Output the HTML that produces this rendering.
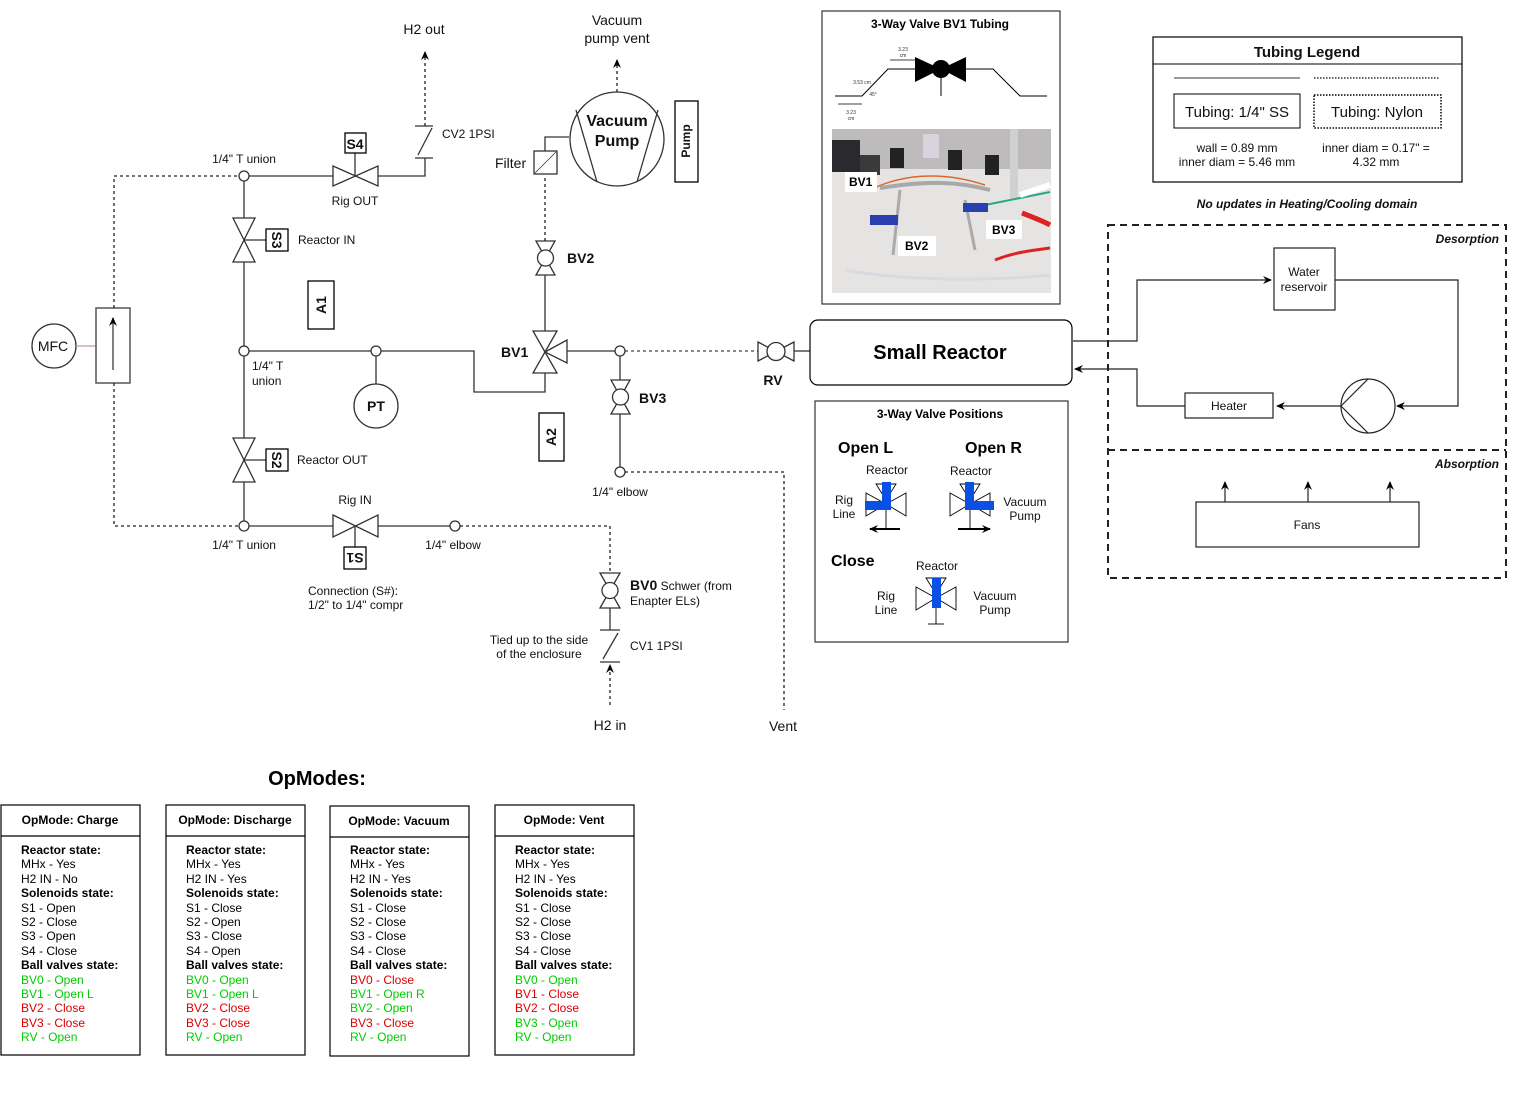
<!DOCTYPE html>
<html><head><meta charset="utf-8"><style>
html,body{margin:0;padding:0;background:#fff;}
svg{display:block;font-family:"Liberation Sans",Arial,sans-serif;}
</style></head><body>
<svg width="1538" height="1102" viewBox="0 0 1538 1102" xmlns="http://www.w3.org/2000/svg">
<defs>
<marker id="ar" markerWidth="10" markerHeight="10" refX="8" refY="5" orient="auto" markerUnits="userSpaceOnUse"><path d="M0,1 L9,5 L0,9 L3,5 Z" fill="#000"/></marker>
</defs>
<rect width="1538" height="1102" fill="#fff"/>
<g stroke="#333" stroke-width="1.3" fill="none">
<circle cx="54" cy="346" r="22" fill="#fff"/>
<line x1="76" y1="346" x2="96" y2="346" stroke="#b9a"/>
<rect x="96" y="308" width="34" height="75" fill="#fff" stroke="#555" stroke-width="1.5"/>
<line x1="113" y1="370" x2="113" y2="318" stroke="#555" stroke-width="1.5" marker-end="url(#ar)"/>
<path d="M114,308 V176 H239" stroke-dasharray="3,3" stroke="#222"/>
<path d="M114,383 V526 H239" stroke-dasharray="3,3" stroke="#222"/>
<line x1="244" y1="181" x2="244" y2="521"/>
<path d="M249,176 H333"/>
<path d="M378,176 H425 V158"/>
<line x1="415" y1="158" x2="433" y2="158"/>
<line x1="415" y1="126" x2="433" y2="126"/>
<line x1="418" y1="155" x2="432" y2="128"/>
<line x1="425" y1="126" x2="425" y2="52" stroke-dasharray="3,3" stroke="#222" marker-end="url(#ar)"/>
<path d="M333,166 L378,186 L378,166 L333,186 Z" fill="#fff"/>
<line x1="355" y1="153" x2="355" y2="176"/>
<rect x="345" y="133" width="21" height="20" fill="#fff" stroke="#000"/>
<path d="M233,218 L255,218 L233,262 L255,262 Z" fill="#fff"/>
<line x1="244" y1="240" x2="266" y2="240"/>
<rect x="266" y="229" width="22" height="22" fill="#fff" stroke="#000"/>
<path d="M233,438 L255,438 L233,482 L255,482 Z" fill="#fff"/>
<line x1="244" y1="460" x2="266" y2="460"/>
<rect x="266" y="449" width="22" height="22" fill="#fff" stroke="#000"/>
<path d="M249,351 H371"/>
<path d="M381,351 H474 V392 H545 V373"/>
<line x1="376" y1="356" x2="376" y2="384"/>
<circle cx="376" cy="406" r="22" fill="#fff"/>
<circle cx="244" cy="176" r="5" fill="#fff"/>
<circle cx="244" cy="351" r="5" fill="#fff"/>
<circle cx="244" cy="526" r="5" fill="#fff"/>
<circle cx="376" cy="351" r="5" fill="#fff"/>
<path d="M249,526 H333"/>
<path d="M378,526 H450"/>
<path d="M333,515 L378,537 L378,515 L333,537 Z" fill="#fff"/>
<line x1="355" y1="526" x2="355" y2="547"/>
<rect x="344" y="547" width="22" height="22" fill="#fff" stroke="#000"/>
<circle cx="455" cy="526" r="5" fill="#fff"/>
<path d="M460,526 H610 V573" stroke-dasharray="3,3" stroke="#222"/>
<rect x="308" y="281" width="26" height="48" fill="#fff" stroke="#000"/>
<rect x="539" y="413" width="25" height="48" fill="#fff" stroke="#000"/>
<path d="M533,331 L557,331 L533,373 L557,373 Z" fill="#fff"/>
<path d="M545,352 L567,340 L567,363 Z" fill="#fff"/>
<line x1="545" y1="331" x2="545" y2="275"/>
<path d="M536,241 L555,241 L536,275 L555,275 Z" fill="#fff"/>
<circle cx="545.5" cy="258" r="8" fill="#fff"/>
<line x1="545" y1="241" x2="545" y2="175" stroke-dasharray="3,3" stroke="#222"/>
<rect x="534" y="151" width="23" height="23" fill="#fff"/>
<line x1="535" y1="173" x2="556" y2="152" stroke-width="0.8"/>
<path d="M545,151 V137 H569"/>
<circle cx="617" cy="139" r="47" fill="#fff"/>
<line x1="576" y1="110" x2="597" y2="182"/>
<line x1="658" y1="110" x2="637" y2="182"/>
<line x1="617" y1="92" x2="617" y2="60" stroke-dasharray="3,3" stroke="#222" marker-end="url(#ar)"/>
<rect x="675" y="101" width="23" height="81" fill="#fff" stroke="#000"/>
<line x1="567" y1="351" x2="615" y2="351"/>
<line x1="625" y1="351" x2="758" y2="351" stroke-dasharray="3,3" stroke="#444"/>
<circle cx="620" cy="351" r="5" fill="#fff"/>
<path d="M758,342 L794,361 L794,342 L758,361 Z" fill="#fff"/>
<circle cx="776" cy="351.5" r="9" fill="#fff"/>
<line x1="794" y1="351" x2="810" y2="351"/>
<line x1="620" y1="356" x2="620" y2="380"/>
<path d="M611,380 L630,380 L611,414 L630,414 Z" fill="#fff"/>
<circle cx="620.5" cy="397" r="8" fill="#fff"/>
<line x1="620" y1="414" x2="620" y2="467"/>
<circle cx="620" cy="472" r="5" fill="#fff"/>
<path d="M625,472 H784 V710" stroke-dasharray="3,3" stroke="#222"/>
<path d="M600,573 L620,573 L600,608 L620,608 Z" fill="#fff"/>
<circle cx="610" cy="590.5" r="8" fill="#fff"/>
<line x1="610" y1="608" x2="610" y2="630"/>
<line x1="600" y1="630" x2="620" y2="630"/>
<line x1="600" y1="662" x2="620" y2="662"/>
<line x1="603" y1="659" x2="618" y2="633"/>
<line x1="610" y1="705" x2="610" y2="665" stroke-dasharray="3,3" stroke="#222" marker-end="url(#ar)"/>
</g>
<g font-size="12" fill="#111" text-anchor="middle">
<text x="424" y="34" font-size="14">H2 out</text>
<text x="617" y="25" font-size="14">Vacuum</text>
<text x="617" y="43" font-size="14">pump vent</text>
<text x="244" y="163">1/4" T union</text>
<text x="244" y="549">1/4" T union</text>
<text x="355" y="205">Rig OUT</text>
<text x="355" y="504">Rig IN</text>
<text x="453" y="549">1/4" elbow</text>
<text x="620" y="496">1/4" elbow</text>
<text x="539" y="644">Tied up to the side</text>
<text x="539" y="658">of the enclosure</text>
<text x="610" y="730" font-size="14">H2 in</text>
<text x="783" y="731" font-size="14">Vent</text>
<text x="376" y="411" font-size="14" font-weight="bold">PT</text>
<text x="355" y="149" font-size="14" font-weight="bold">S4</text>
<text x="617" y="126" font-size="16" font-weight="bold">Vacuum</text>
<text x="617" y="146" font-size="16" font-weight="bold">Pump</text>
<text x="53" y="351" font-size="14">MFC</text>
<text x="773" y="385" font-size="14" font-weight="bold">RV</text>
</g>
<g font-size="12" fill="#111">
<text x="442" y="138">CV2 1PSI</text>
<text x="495" y="168" font-size="14">Filter</text>
<text x="298" y="244">Reactor IN</text>
<text x="297" y="464">Reactor OUT</text>
<text x="252" y="370">1/4" T</text>
<text x="252" y="385">union</text>
<text x="308" y="595">Connection (S#):</text>
<text x="308" y="609">1/2" to 1/4" compr</text>
<text x="630" y="650">CV1 1PSI</text>
<text x="630" y="590"><tspan font-weight="bold" font-size="14">BV0</tspan> Schwer (from</text>
<text x="630" y="605">Enapter ELs)</text>
<text x="567" y="263" font-size="14" font-weight="bold">BV2</text>
<text x="639" y="403" font-size="14" font-weight="bold">BV3</text>
<text x="501" y="357" font-size="14" font-weight="bold">BV1</text>
</g>
<g font-weight="bold" font-size="14" text-anchor="middle" fill="#111">
<text transform="translate(277,240) rotate(90)" y="5">S3</text>
<text transform="translate(277,460) rotate(90)" y="5">S2</text>
<text transform="translate(355,558) rotate(180)" y="5">S1</text>
<text transform="translate(321,305) rotate(-90)" y="5">A1</text>
<text transform="translate(551,437) rotate(-90)" y="5">A2</text>
<text transform="translate(686,141) rotate(-90)" y="4" font-size="12">Pump</text>
</g>
<rect x="810" y="320" width="262" height="65" rx="8" fill="#fff" stroke="#000" stroke-width="1.2"/>
<text x="940" y="359" font-size="20" font-weight="bold" text-anchor="middle">Small Reactor</text>
<g stroke="#222" stroke-width="1.2" fill="none">
<path d="M1073,341 H1137 V280 H1271" marker-end="url(#ar)"/>
<rect x="1274" y="248" width="61" height="62" fill="#fff"/>
<path d="M1335,280 H1458 V406 H1397" marker-end="url(#ar)"/>
<circle cx="1368" cy="406" r="27" fill="#fff"/>
<line x1="1341" y1="406" x2="1368" y2="379"/>
<line x1="1341" y1="406" x2="1368" y2="433"/>
<path d="M1341,406 H1277" marker-end="url(#ar)"/>
<rect x="1185" y="393" width="88" height="25" fill="#fff"/>
<path d="M1185,406 H1137 V369 H1075" marker-end="url(#ar)"/>
<rect x="1108" y="225" width="398" height="353" stroke-dasharray="7,5" stroke-width="2"/>
<line x1="1108" y1="450" x2="1506" y2="450" stroke-dasharray="7,5" stroke-width="2"/>
<rect x="1196" y="502" width="223" height="45" fill="#fff"/>
<line x1="1225" y1="502" x2="1225" y2="482" marker-end="url(#ar)"/>
<line x1="1308" y1="502" x2="1308" y2="482" marker-end="url(#ar)"/>
<line x1="1390" y1="502" x2="1390" y2="482" marker-end="url(#ar)"/>
</g>
<g font-size="12" text-anchor="middle" fill="#111">
<text x="1304" y="276">Water</text>
<text x="1304" y="291">reservoir</text>
<text x="1229" y="410">Heater</text>
<text x="1307" y="529">Fans</text>
<text x="1307" y="208" font-style="italic" font-weight="bold">No updates in Heating/Cooling domain</text>
<text x="1499" y="243" text-anchor="end" font-style="italic" font-weight="bold">Desorption</text>
<text x="1499" y="468" text-anchor="end" font-style="italic" font-weight="bold">Absorption</text>
</g>
<g stroke="#000" fill="none">
<rect x="1153" y="37" width="309" height="145" stroke-width="1.2"/>
<line x1="1153" y1="64" x2="1462" y2="64"/>
<line x1="1174" y1="78" x2="1300" y2="78" stroke="#333"/>
<line x1="1314" y1="78" x2="1440" y2="78" stroke-dasharray="1.5,1.5" stroke="#333" stroke-width="1.5"/>
<rect x="1174" y="94" width="126" height="34"/>
<rect x="1314" y="95" width="127" height="33" stroke-dasharray="1.5,1.5" stroke-width="1.5"/>
</g>
<g text-anchor="middle" fill="#111">
<text x="1307" y="57" font-size="15" font-weight="bold">Tubing Legend</text>
<text x="1237" y="117" font-size="15">Tubing: 1/4" SS</text>
<text x="1377" y="117" font-size="15">Tubing: Nylon</text>
<text x="1237" y="152" font-size="12">wall = 0.89 mm</text>
<text x="1237" y="166" font-size="12">inner diam = 5.46 mm</text>
<text x="1376" y="152" font-size="12">inner diam = 0.17" =</text>
<text x="1376" y="166" font-size="12">4.32 mm</text>
</g>
<rect x="822" y="11" width="238" height="293" fill="#fff" stroke="#333" stroke-width="1.2"/>
<text x="940" y="28" font-size="12" font-weight="bold" text-anchor="middle">3-Way Valve BV1 Tubing</text>
<g stroke="#000" stroke-width="1" fill="none">
<path d="M835,96 H862 L888,69 H915"/>
<path d="M966,69 H993 L1020,96 H1047"/>
<line x1="941" y1="69" x2="941" y2="96"/>
</g>
<path d="M915,57 L941,69 L915,82 Z M966,57 L941,69 L966,82 Z" fill="#000"/>
<circle cx="941" cy="69" r="9" fill="#000"/>
<g font-size="5" fill="#333" text-anchor="middle">
<text x="903" y="51">3.23</text><text x="903" y="57">cm</text>
<text x="862" y="84">3.53 cm</text>
<text x="873" y="96">45°</text>
<text x="851" y="114">3.23</text><text x="851" y="120">cm</text>
</g>
<line x1="890" y1="60" x2="915" y2="60" stroke="#000" stroke-width="0.7"/>
<line x1="838" y1="104" x2="862" y2="104" stroke="#000" stroke-width="0.7"/>
<rect x="832" y="129" width="219" height="164" fill="#e6e4e3"/>
<rect x="832" y="129" width="219" height="40" fill="#bdbbbc"/>
<rect x="1010" y="129" width="8" height="70" fill="#cfd0d2"/>
<rect x="832" y="140" width="28" height="32" fill="#2a2a2e"/>
<rect x="860" y="155" width="20" height="20" fill="#3a3a3a"/>
<rect x="890" y="148" width="14" height="20" fill="#222"/>
<rect x="948" y="150" width="14" height="20" fill="#222"/>
<rect x="985" y="155" width="14" height="20" fill="#222"/>
<rect x="923" y="134" width="16" height="24" fill="#d8d4de"/>
<path d="M870,190 C900,175 940,170 985,185" stroke="#d86a2a" stroke-width="1.5" fill="none"/>
<path d="M880,188 C930,180 960,182 990,190" stroke="#a8a8a8" stroke-width="4" fill="none"/>
<path d="M900,190 L893,255 M965,200 L975,250" stroke="#aaa" stroke-width="3" fill="none"/>
<path d="M985,205 C1010,200 1030,196 1050,192" stroke="#2a8" stroke-width="2" fill="none"/>
<path d="M995,260 C1015,252 1035,250 1050,248" stroke="#d22" stroke-width="3" fill="none"/>
<path d="M1022,213 C1035,218 1045,222 1050,225" stroke="#d22" stroke-width="5" fill="none"/>
<path d="M1020,195 L1050,185" stroke="#fff" stroke-width="6" fill="none"/>
<path d="M845,270 C900,280 980,282 1050,275" stroke="#d8dadf" stroke-width="3" fill="none"/>
<rect x="870" y="215" width="28" height="10" fill="#2a3fb0"/>
<rect x="963" y="203" width="25" height="9" fill="#2a3fb0"/>
<rect x="845" y="172" width="32" height="20" fill="#fff"/>
<rect x="898" y="236" width="38" height="20" fill="#fff"/>
<rect x="986" y="220" width="36" height="19" fill="#fff"/>
<g font-size="12" font-weight="bold">
<text x="849" y="186">BV1</text>
<text x="905" y="250">BV2</text>
<text x="992" y="234">BV3</text>
</g>
<rect x="815" y="401" width="253" height="241" fill="#fff" stroke="#333" stroke-width="1.2"/>
<text x="940" y="418" font-size="12" font-weight="bold" text-anchor="middle">3-Way Valve Positions</text>
<g font-weight="bold" font-size="16">
<text x="838" y="453">Open L</text>
<text x="965" y="453">Open R</text>
<text x="831" y="566">Close</text>
</g>
<g stroke="#000" stroke-width="0.9" fill="#fff">
<path d="M876,484 L896,484 L886,500 Z"/>
<path d="M866,493 L866,516 L886,504 Z M906,493 L906,516 L886,504 Z"/>
<line x1="886" y1="504" x2="886" y2="528"/>
<path d="M960,484 L980,484 L970,500 Z"/>
<path d="M950,493 L950,516 L970,504 Z M990,493 L990,516 L970,504 Z"/>
<line x1="970" y1="504" x2="970" y2="528"/>
<path d="M926,578 L946,578 L936,594 Z"/>
<path d="M916,587 L916,610 L936,598 Z M956,587 L956,610 L936,598 Z"/>
<line x1="936" y1="598" x2="936" y2="624"/>
<line x1="928" y1="624" x2="944" y2="624"/>
</g>
<g fill="#0a4fe6">
<rect x="882" y="482" width="9" height="28"/><rect x="865" y="501" width="26" height="9"/>
<rect x="965" y="482" width="9" height="28"/><rect x="965" y="501" width="29" height="9"/>
<rect x="932" y="578" width="9" height="30"/>
</g>
<line x1="900" y1="529" x2="870" y2="529" stroke="#000" stroke-width="2" marker-end="url(#ar)"/>
<line x1="958" y1="529" x2="990" y2="529" stroke="#000" stroke-width="2" marker-end="url(#ar)"/>
<g font-size="12" fill="#111" text-anchor="middle">
<text x="887" y="474">Reactor</text>
<text x="971" y="475">Reactor</text>
<text x="937" y="570">Reactor</text>
<text x="844" y="504">Rig</text><text x="844" y="518">Line</text>
<text x="1025" y="506">Vacuum</text><text x="1025" y="520">Pump</text>
<text x="886" y="600">Rig</text><text x="886" y="614">Line</text>
<text x="995" y="600">Vacuum</text><text x="995" y="614">Pump</text>
</g>
<text x="317" y="785" font-size="20" font-weight="bold" text-anchor="middle">OpModes:</text>
<g stroke="#000" stroke-width="1.2" fill="none">
<rect x="1" y="805" width="139" height="250"/><line x1="1" y1="836" x2="140" y2="836"/>
<rect x="166" y="805" width="139" height="250"/><line x1="166" y1="836" x2="305" y2="836"/>
<rect x="330" y="806" width="139" height="250"/><line x1="330" y1="837" x2="469" y2="837"/>
<rect x="495" y="805" width="139" height="250"/><line x1="495" y1="836" x2="634" y2="836"/>
</g>
<g font-size="12" font-weight="bold" text-anchor="middle">
<text x="70" y="824">OpMode: Charge</text>
<text x="235" y="824">OpMode: Discharge</text>
<text x="399" y="825">OpMode: Vacuum</text>
<text x="564" y="824">OpMode: Vent</text>
</g>
<g font-size="12" fill="#000">
<g transform="translate(21,0)">
<text y="854" font-weight="bold">Reactor state:</text><text y="868">MHx - Yes</text><text y="883">H2 IN - No</text>
<text y="897" font-weight="bold">Solenoids state:</text><text y="912">S1 - Open</text><text y="926">S2 - Close</text><text y="940">S3 - Open</text><text y="955">S4 - Close</text>
<text y="969" font-weight="bold">Ball valves state:</text>
<text y="984" fill="#0c0">BV0 - Open</text><text y="998" fill="#0c0">BV1 - Open L</text><text y="1012" fill="#d00">BV2 - Close</text><text y="1027" fill="#d00">BV3 - Close</text><text y="1041" fill="#0c0">RV - Open</text>
</g>
<g transform="translate(186,0)">
<text y="854" font-weight="bold">Reactor state:</text><text y="868">MHx - Yes</text><text y="883">H2 IN - Yes</text>
<text y="897" font-weight="bold">Solenoids state:</text><text y="912">S1 - Close</text><text y="926">S2 - Open</text><text y="940">S3 - Close</text><text y="955">S4 - Open</text>
<text y="969" font-weight="bold">Ball valves state:</text>
<text y="984" fill="#0c0">BV0 - Open</text><text y="998" fill="#0c0">BV1 - Open L</text><text y="1012" fill="#d00">BV2 - Close</text><text y="1027" fill="#d00">BV3 - Close</text><text y="1041" fill="#0c0">RV - Open</text>
</g>
<g transform="translate(350,0)">
<text y="854" font-weight="bold">Reactor state:</text><text y="868">MHx - Yes</text><text y="883">H2 IN - Yes</text>
<text y="897" font-weight="bold">Solenoids state:</text><text y="912">S1 - Close</text><text y="926">S2 - Close</text><text y="940">S3 - Close</text><text y="955">S4 - Close</text>
<text y="969" font-weight="bold">Ball valves state:</text>
<text y="984" fill="#d00">BV0 - Close</text><text y="998" fill="#0c0">BV1 - Open R</text><text y="1012" fill="#0c0">BV2 - Open</text><text y="1027" fill="#d00">BV3 - Close</text><text y="1041" fill="#0c0">RV - Open</text>
</g>
<g transform="translate(515,0)">
<text y="854" font-weight="bold">Reactor state:</text><text y="868">MHx - Yes</text><text y="883">H2 IN - Yes</text>
<text y="897" font-weight="bold">Solenoids state:</text><text y="912">S1 - Close</text><text y="926">S2 - Close</text><text y="940">S3 - Close</text><text y="955">S4 - Close</text>
<text y="969" font-weight="bold">Ball valves state:</text>
<text y="984" fill="#0c0">BV0 - Open</text><text y="998" fill="#d00">BV1 - Close</text><text y="1012" fill="#d00">BV2 - Close</text><text y="1027" fill="#0c0">BV3 - Open</text><text y="1041" fill="#0c0">RV - Open</text>
</g>
</g>
</svg>
</body></html>
